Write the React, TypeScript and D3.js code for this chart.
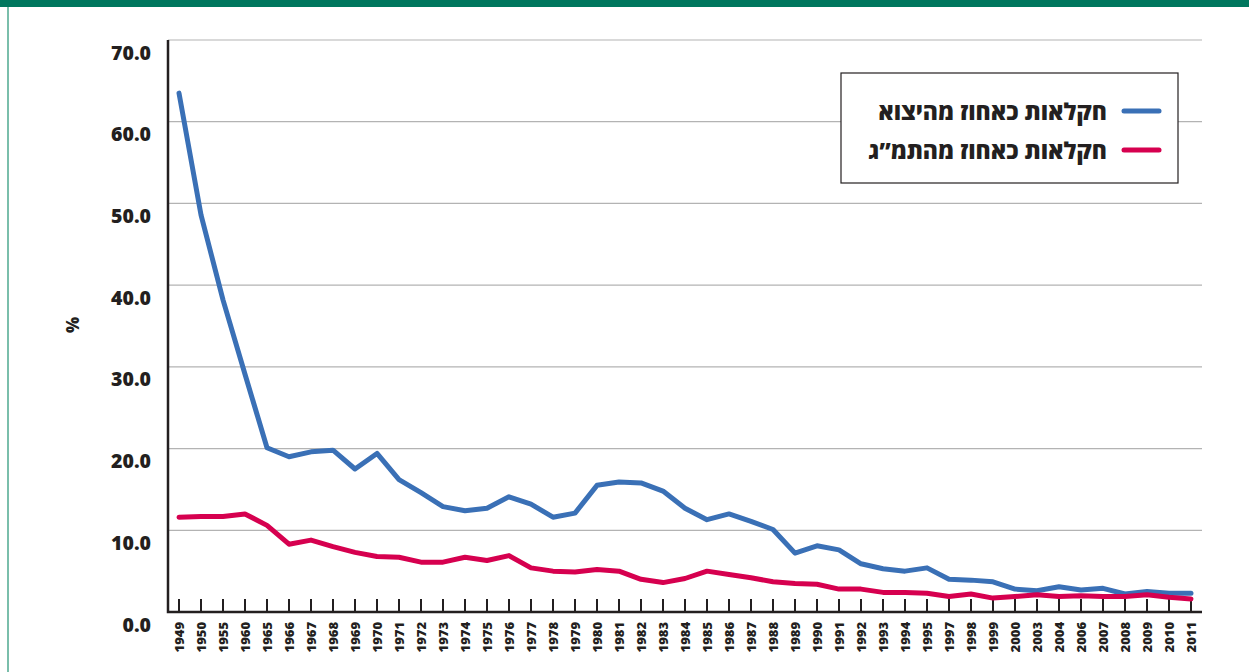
import * as d3 from "d3";
import { useEffect, useRef } from "react";

const YEARS = [
  "1949", "1950", "1955", "1960", "1965", "1966", "1967", "1968", "1969", "1970",
  "1971", "1972", "1973", "1974", "1975", "1976", "1977", "1978", "1979", "1980",
  "1981", "1982", "1983", "1984", "1985", "1986", "1987", "1988", "1989", "1990",
  "1991", "1992", "1993", "1994", "1995", "1997", "1998", "1999", "2000", "2003",
  "2004", "2006", "2007", "2008", "2009", "2010", "2011",
];

// agriculture as % of exports
const EXPORT_SHARE = [
  63.5, 48.6, 38.2, 29.1, 20.1, 19.0, 19.6, 19.8, 17.5, 19.4,
  16.2, 14.6, 12.9, 12.4, 12.7, 14.1, 13.2, 11.6, 12.1, 15.5,
  15.9, 15.8, 14.8, 12.7, 11.3, 12.0, 11.1, 10.1, 7.2, 8.1,
  7.6, 5.9, 5.3, 5.0, 5.4, 4.0, 3.9, 3.7, 2.8, 2.6,
  3.1, 2.7, 2.9, 2.2, 2.5, 2.3, 2.3,
];

// agriculture as % of GDP
const GDP_SHARE = [
  11.6, 11.7, 11.7, 12.0, 10.6, 8.3, 8.8, 8.0, 7.3, 6.8,
  6.7, 6.1, 6.1, 6.7, 6.3, 6.9, 5.4, 5.0, 4.9, 5.2,
  5.0, 4.0, 3.6, 4.1, 5.0, 4.6, 4.2, 3.7, 3.5, 3.4,
  2.8, 2.8, 2.4, 2.4, 2.3, 1.9, 2.2, 1.7, 1.9, 2.1,
  1.9, 2.0, 1.9, 1.9, 2.1, 1.8, 1.6,
];

const Y_TICKS = [0, 10, 20, 30, 40, 50, 60, 70];

const SERIES = [
  { name: "חקלאות כאחוז מהיצוא", values: EXPORT_SHARE, color: "#3a70b6" },
  { name: "חקלאות כאחוז מהתמ”ג", values: GDP_SHARE, color: "#d6004f" },
];

const W = 1249;
const H = 672;
const FONT = "'Open Sans', 'Noto Sans', 'DejaVu Sans', sans-serif";

export default function App() {
  const ref = useRef<SVGSVGElement>(null);

  useEffect(() => {
    const svg = d3.select(ref.current);
    svg.selectAll("*").remove();

    const left = 168;
    const right = 1202;
    const top = 40;
    const bottom = 612;

    const x = d3.scaleBand<string>().domain(YEARS).range([left, right]);
    const y = d3.scaleLinear().domain([0, 70]).range([bottom, top]);
    const cx = (d: string) => (x(d) ?? 0) + x.bandwidth() / 2;

    svg.append("rect").attr("width", W).attr("height", H).attr("fill", "#fff");
    svg.append("rect").attr("width", W).attr("height", 7).attr("fill", "#00775e");
    svg
      .append("line")
      .attr("x1", 8)
      .attr("x2", 8)
      .attr("y1", 7)
      .attr("y2", H)
      .attr("stroke", "#4ea88f")
      .attr("stroke-width", 1.5);

    // gridlines
    svg
      .append("g")
      .selectAll("line")
      .data(Y_TICKS.filter((t) => t > 0))
      .join("line")
      .attr("x1", left)
      .attr("x2", right)
      .attr("y1", (d) => y(d))
      .attr("y2", (d) => y(d))
      .attr("stroke", "#b3b3b3")
      .attr("stroke-width", 1.2);

    // y labels
    svg
      .append("g")
      .selectAll("text")
      .data(Y_TICKS)
      .join("text")
      .attr("x", 151)
      .attr("y", (d) => y(d) + 12)
      .attr("text-anchor", "end")
      .attr("dominant-baseline", "central")
      .attr("font-family", FONT)
      .attr("font-weight", 800)
      .attr("font-size", 19.5)
      .attr("fill", "#231f20")
      .text((d) => d3.format(".1f")(d));

    svg
      .append("text")
      .attr("transform", "translate(72,325) rotate(-90)")
      .attr("text-anchor", "middle")
      .attr("dominant-baseline", "central")
      .attr("font-family", FONT)
      .attr("font-weight", 800)
      .attr("font-size", 17)
      .attr("fill", "#231f20")
      .text("%");

    // x ticks pointing up
    svg
      .append("g")
      .selectAll("line")
      .data(YEARS)
      .join("line")
      .attr("x1", cx)
      .attr("x2", cx)
      .attr("y1", bottom - 13)
      .attr("y2", bottom)
      .attr("stroke", "#231f20")
      .attr("stroke-width", 2);

    svg
      .append("g")
      .selectAll("text")
      .data(YEARS)
      .join("text")
      .attr("transform", (d) => `translate(${cx(d)},622) rotate(-90)`)
      .attr("text-anchor", "end")
      .attr("dominant-baseline", "central")
      .attr("font-family", FONT)
      .attr("font-weight", 800)
      .attr("font-size", 13)
      .attr("fill", "#231f20")
      .text((d) => d);

    // axes
    svg
      .append("path")
      .attr("d", `M${left},${top}V${bottom}H${right}`)
      .attr("fill", "none")
      .attr("stroke", "#231f20")
      .attr("stroke-width", 2.5);

    const line = d3
      .line<number>()
      .x((_, i) => cx(YEARS[i]))
      .y((d) => y(d));

    svg
      .append("g")
      .selectAll("path")
      .data(SERIES)
      .join("path")
      .attr("d", (s) => line(s.values) ?? "")
      .attr("fill", "none")
      .attr("stroke", (s) => s.color)
      .attr("stroke-width", 5)
      .attr("stroke-linejoin", "round")
      .attr("stroke-linecap", "round");

    // legend
    const legend = svg.append("g");
    legend
      .append("rect")
      .attr("x", 841)
      .attr("y", 73)
      .attr("width", 337)
      .attr("height", 110)
      .attr("fill", "#fff")
      .attr("stroke", "#231f20")
      .attr("stroke-width", 1.2);

    const rows = legend
      .selectAll("g")
      .data(SERIES)
      .join("g")
      .attr("transform", (_, i) => `translate(0,${111 + i * 39})`);

    rows
      .append("line")
      .attr("x1", 1124)
      .attr("x2", 1159)
      .attr("stroke", (s) => s.color)
      .attr("stroke-width", 5)
      .attr("stroke-linecap", "round");

    rows
      .append("text")
      .attr("x", 1107)
      .attr("text-anchor", "end")
      .attr("dominant-baseline", "central")
      .attr("font-family", FONT)
      .attr("font-weight", 800)
      .attr("font-size", 23)
      .attr("fill", "#231f20")
      .text((s) => s.name);
  }, []);

  return (
    <div style={{ position: "absolute", left: 0, top: 0, width: W, height: H }}>
      <svg ref={ref} width={W} height={H} />
    </div>
  );
}
